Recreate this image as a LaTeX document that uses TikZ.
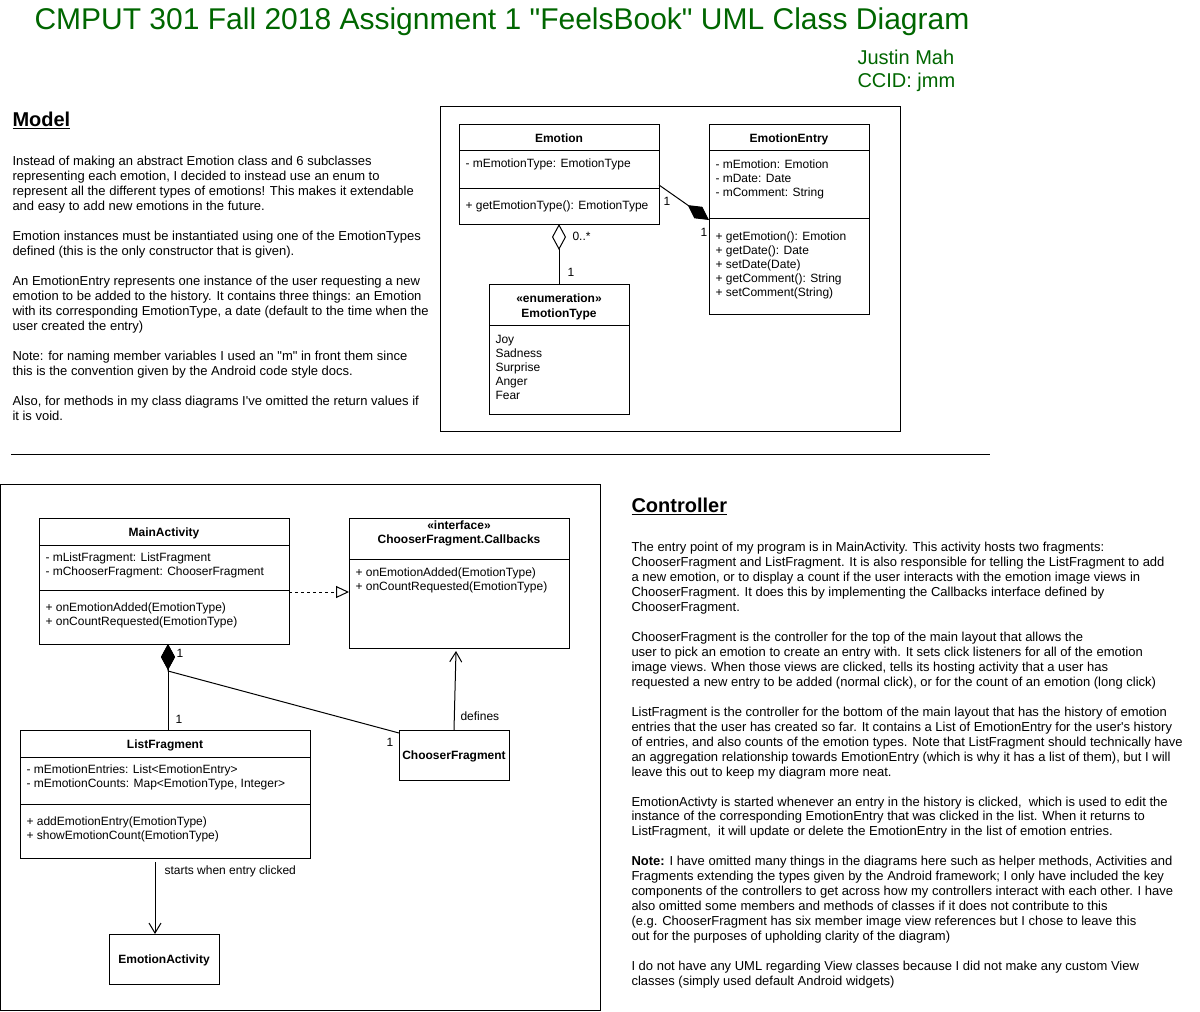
\documentclass[tikz,border=0pt]{standalone}
\usepackage{fontspec}
\setmainfont{Liberation Sans}
\usetikzlibrary{arrows.meta,calc}
\definecolor{titlegreen}{RGB}{0,102,0}
\newcommand\txtlines[6]{\foreach \tl [count=\ii from 0] in {#6}{\node[#5,anchor=base west] (#1-\ii) at (#2,{#3+\ii*#4}) {\tl};}}
\newcommand\divider[2]{\draw ($(#1.north west)+(0,#2)$) -- ($(#1.north east)+(0,#2)$);}
\newcommand\qq{\textquotedbl}
\newcommand\ap{\textquotesingle}
\tikzset{
  body/.style={font=\fontsize{9.75pt}{11.25pt}\selectfont, inner sep=0pt},
  cls/.style={font=\fontsize{9pt}{10.5pt}\selectfont, inner sep=0pt},
  clsb/.style={font=\fontsize{9pt}{10.5pt}\selectfont\bfseries, inner sep=0pt},
  head/.style={font=\fontsize{15pt}{18pt}\selectfont\bfseries, inner sep=0pt, anchor=base west},
  green/.style={text=titlegreen, inner sep=0pt, anchor=base west},
  box/.style={draw, inner sep=0pt, outer sep=0pt, anchor=north west},
  dia/.tip={Diamond[length=19.5pt,width=10.5pt]},
  odia/.tip={Diamond[open,length=19.5pt,width=10.5pt]},
  barb/.tip={Straight Barb[length=7.5pt,width=9pt]},
  otri/.tip={Triangle[open,length=9.75pt,width=9pt]}
}
\begin{document}
\begin{tikzpicture}[x=0.75pt,y=-0.75pt,line width=0.75pt]
\useasboundingbox (0,0) rectangle (1200,1011);
% ---------- header
\node[green, font=\fontsize{22.5pt}{27pt}\selectfont] (title) at (34,29) {CMPUT 301 Fall 2018 Assignment 1 \qq FeelsBook\qq{} UML Class Diagram};
\node[green, font=\fontsize{15pt}{17.25pt}\selectfont] (author) at (857,64) {Justin Mah};
\node[green, font=\fontsize{15pt}{17.25pt}\selectfont] (ccid) at (857,87) {CCID: jmm};
% ---------- model text
\node[head] (modelhead) at (12,126) {\underline{Model}};
\txtlines{mt}{12}{165.7}{15}{body}{{Instead of making an abstract Emotion class and 6 subclasses},{representing each emotion, I decided to instead use an enum to},{represent all the different types of emotions! This makes it extendable},{and easy to add new emotions in the future.},{},{Emotion instances must be instantiated using one of the EmotionTypes},{defined (this is the only constructor that is given).},{},{An EmotionEntry represents one instance of the user requesting a new},{emotion to be added to the history. It contains three things: an Emotion},{with its corresponding EmotionType, a date (default to the time when the},{user created the entry)},{},{Note: for naming member variables I used an \qq m\qq{} in front them since},{this is the convention given by the Android code style docs.},{},{Also, for methods in my class diagrams I\ap ve omitted the return values if},{it is void.}}
% ---------- model diagram
\node[box, minimum width=345pt, minimum height=243.75pt] (mframe) at (440,106) {};
\node[box, minimum width=150pt, minimum height=75pt] (emo) at (459,124) {};
\divider{emo}{26}\divider{emo}{64}
\node[clsb, anchor=base] (emo-name) at (559,142.5) {Emotion};
\txtlines{emoa}{465}{167.5}{14}{cls}{{- mEmotionType: EmotionType}}
\txtlines{emom}{465}{209.5}{14}{cls}{{+ getEmotionType(): EmotionType}}

\node[box, minimum width=120pt, minimum height=142.5pt] (ee) at (709,124) {};
\divider{ee}{26}\divider{ee}{94}
\node[clsb, anchor=base] (ee-name) at (789,142.5) {EmotionEntry};
\txtlines{eea}{715}{168.5}{14}{cls}{{- mEmotion: Emotion},{- mDate: Date},{- mComment: String}}
\txtlines{eem}{715}{240.5}{14}{cls}{{+ getEmotion(): Emotion},{+ getDate(): Date},{+ setDate(Date)},{+ getComment(): String},{+ setComment(String)}}

\node[box, minimum width=105pt, minimum height=97.5pt] (et) at (489,284) {};
\divider{et}{41}
\node[clsb, anchor=base] (et-st) at (559,302.5) {«enumeration»};
\node[clsb, anchor=base] (et-name) at (559,317.5) {EmotionType};
\txtlines{eti}{495}{343.5}{14}{cls}{Joy,Sadness,Surprise,Anger,Fear}

\draw[{odia}-] (emo.south) -- (et.north);
\node[cls, anchor=base west] (l1) at (572,240.5) {0..*};
\node[cls, anchor=base west] (l2) at (567,276.5) {1};
\draw[-{dia}] ($(emo.north east)+(0,61)$) -- ($(ee.north west)+(0,96)$);
\node[cls, anchor=base west] (l3) at (663,205.5) {1};
\node[cls, anchor=base west] (l4) at (700,236.5) {1};
% ---------- separator
\draw (11,454) -- (990,454);
% ---------- controller diagram
\node[box, minimum width=450pt, minimum height=394.5pt] (cframe) at (0.5,484.5) {};
\node[box, minimum width=187.5pt, minimum height=94.5pt] (ma) at (39,518) {};
\divider{ma}{27}\divider{ma}{72}
\node[clsb, anchor=base] (ma-name) at (164,536.5) {MainActivity};
\txtlines{maa}{45}{561.5}{14}{cls}{{- mListFragment: ListFragment},{- mChooserFragment: ChooserFragment}}
\txtlines{mam}{45}{611.5}{14}{cls}{{+ onEmotionAdded(EmotionType)},{+ onCountRequested(EmotionType)}}

\node[box, minimum width=165pt, minimum height=97.5pt] (cb) at (349,518) {};
\divider{cb}{41}
\node[clsb, anchor=base] (cb-st) at (459,529.5) {«interface»};
\node[clsb, anchor=base] (cb-name) at (459,543.5) {ChooserFragment.Callbacks};
\txtlines{cbm}{355}{576.5}{14}{cls}{{+ onEmotionAdded(EmotionType)},{+ onCountRequested(EmotionType)}}

\node[box, minimum width=217.5pt, minimum height=96pt] (lf) at (20,730) {};
\divider{lf}{27}\divider{lf}{74}
\node[clsb, anchor=base] (lf-name) at (165,748.5) {ListFragment};
\txtlines{lfa}{26}{773.5}{14}{cls}{{- mEmotionEntries: List<EmotionEntry>},{- mEmotionCounts: Map<EmotionType, Integer>}}
\txtlines{lfm}{26}{825.5}{14}{cls}{{+ addEmotionEntry(EmotionType)},{+ showEmotionCount(EmotionType)}}

\node[box, minimum width=82.5pt, minimum height=37.5pt] (cf) at (399,730) {};
\node[clsb, anchor=base] (cf-name) at (454,759.5) {ChooserFragment};
\node[box, minimum width=82.5pt, minimum height=37.5pt] (ea) at (109,934) {};
\node[clsb, anchor=base] (ea-name) at (164,963.5) {EmotionActivity};

\draw[dashed, dash pattern=on 2.25pt off 2.25pt, -{otri}] ($(ma.north east)+(0,74)$) -- ($(cb.north west)+(0,74)$);
\draw[{dia}-] ($(ma.south west)+(129,0)$) -- ($(lf.north west)+(148,0)$);
\draw[{dia}-] ($(ma.south west)+(129,0)$) -- ($(ma.south west)+(129,27)$) -- ($(cf.north west)+(0,3)$);
\node[cls, anchor=base west] (l5) at (176,657.5) {1};
\node[cls, anchor=base west] (l6) at (175,723.5) {1};
\node[cls, anchor=base west] (l7) at (386,746.5) {1};
\draw[-{barb}] (cf.north) -- ($(cb.south west)+(107,3)$);
\node[cls, anchor=base west] (l8) at (460,720.5) {defines};
\draw[-{barb}] ($(lf.south west)+(135,4)$) -- ($(ea.north west)+(46,0)$);
\node[cls, anchor=base west] (l9) at (164,874.5) {starts when entry clicked};
% ---------- controller text
\node[head] (ctrlhead) at (631,512) {\underline{Controller}};
\txtlines{ct}{631}{551.5}{14.97}{body}{{The entry point of my program is in MainActivity. This activity hosts two fragments:},{ChooserFragment and ListFragment. It is also responsible for telling the ListFragment to add},{a new emotion, or to display a count if the user interacts with the emotion image views in},{ChooserFragment. It does this by implementing the Callbacks interface defined by},{ChooserFragment.},{},{ChooserFragment is the controller for the top of the main layout that allows the},{user to pick an emotion to create an entry with. It sets click listeners for all of the emotion},{image views. When those views are clicked, tells its hosting activity that a user has},{requested a new entry to be added (normal click), or for the count of an emotion (long click)},{},{ListFragment is the controller for the bottom of the main layout that has the history of emotion},{entries that the user has created so far. It contains a List of EmotionEntry for the user\ap s history},{of entries, and also counts of the emotion types. Note that ListFragment should technically have},{an aggregation relationship towards EmotionEntry (which is why it has a list of them), but I will},{leave this out to keep my diagram more neat.},{},{EmotionActivty is started whenever an entry in the history is clicked,~ which is used to edit the},{instance of the corresponding EmotionEntry that was clicked in the list. When it returns to},{ListFragment,~ it will update or delete the EmotionEntry in the list of emotion entries.},{},{\textbf{Note:} I have omitted many things in the diagrams here such as helper methods, Activities and},{Fragments extending the types given by the Android framework; I only have included the key},{components of the controllers to get across how my controllers interact with each other. I have},{also omitted some members and methods of classes if it does not contribute to this},{(e.g. ChooserFragment has six member image view references but I chose to leave this},{out for the purposes of upholding clarity of the diagram)},{},{I do not have any UML regarding View classes because I did not make any custom View},{classes (simply used default Android widgets)}}
\end{tikzpicture}
\end{document}
